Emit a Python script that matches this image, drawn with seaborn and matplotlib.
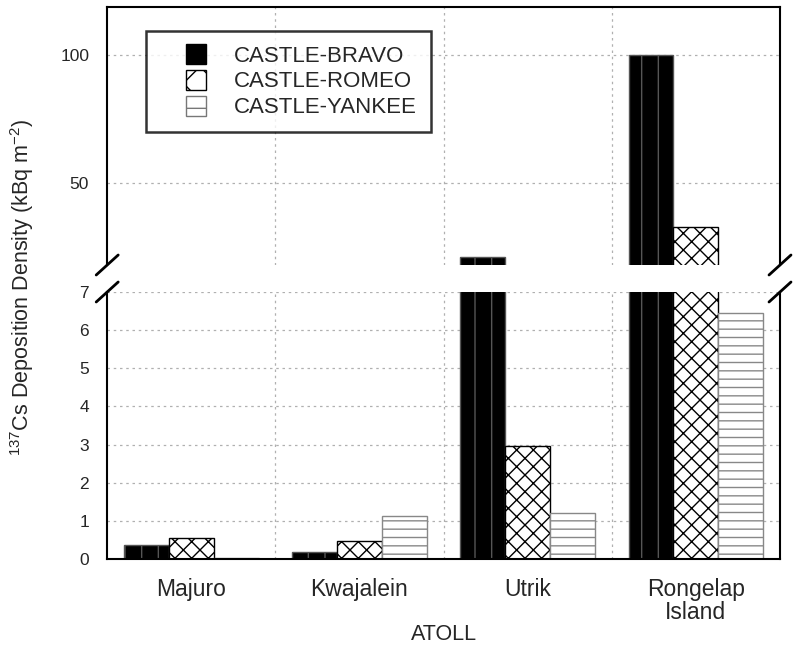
import pandas as pd
import matplotlib
matplotlib.use('Agg')
import matplotlib.pyplot as plt
from matplotlib.patches import Patch, Rectangle
from matplotlib.legend_handler import HandlerPatch
import seaborn as sns

# data
atolls = ['Majuro', 'Kwajalein', 'Utrik', 'Rongelap\nIsland']
tests = ['CASTLE-BRAVO', 'CASTLE-ROMEO', 'CASTLE-YANKEE']
bravo = [0.37, 0.18, 21.0, 100.0]
romeo = [0.55, 0.47, 2.97, 33.0]
yankee = [0.03, 1.12, 1.2, 6.45]

df = pd.DataFrame({
    'atoll': atolls * 3,
    'test': [t for t in tests for _ in atolls],
    'value': bravo + romeo + yankee,
})

sns.set_style('white')
plt.rcParams['font.family'] = ['Liberation Sans', 'DejaVu Sans']
plt.rcParams['mathtext.default'] = 'regular'
plt.rcParams['hatch.linewidth'] = 1.0

# bar styles: face, edge, hatch
styles = {
    'CASTLE-BRAVO': ('black', '#555555', '|'),
    'CASTLE-ROMEO': ('white', 'black', 'xx'),
    'CASTLE-YANKEE': ('white', '#888888', '--'),
}

fig = plt.figure(figsize=(8, 6.51), dpi=100)
ax_top = fig.add_axes([0.134, 0.593, 0.841, 0.396])
ax_bot = fig.add_axes([0.134, 0.1413, 0.841, 0.4102])

for ax in (ax_top, ax_bot):
    sns.barplot(data=df, x='atoll', y='value', hue='test', hue_order=tests,
                order=atolls, ax=ax, legend=False, saturation=1, width=0.8)
    for cont, t in zip(ax.containers, tests):
        fc, ec, h = styles[t]
        for bar in cont:
            bar.set_facecolor(fc)
            bar.set_edgecolor(ec)
            bar.set_hatch(h)
            bar.set_linewidth(1.0)
    ax.set_xlim(-0.5, 3.5)
    ax.set_xlabel('')
    ax.set_ylabel('')
    for xv in [0.5, 1.5, 2.5]:
        ax.axvline(xv, color='#b0b0b0', ls=(0, (2, 3)), lw=0.9, zorder=0)
    ax.tick_params(axis='both', length=0, labelsize=12.5, pad=13)
    for s in ax.spines.values():
        s.set_linewidth(1.5)
        s.set_color('black')

ax_top.set_ylim(18, 118.8)
ax_top.set_yticks([50, 100])
ax_top.set_xticks([])
ax_top.spines['bottom'].set_visible(False)
ax_bot.set_ylim(0, 7)
ax_bot.set_yticks(range(0, 8))
ax_bot.spines['top'].set_visible(False)
ax_bot.tick_params(axis='x', labelsize=16.5, pad=14)
for lbl in ax_bot.get_xticklabels():
    lbl.set_linespacing(0.95)

for ax in (ax_top, ax_bot):
    for yv in ax.get_yticks():
        ax.axhline(yv, color='#b0b0b0', ls=(0, (2, 3)), lw=0.9, zorder=0)

ax_bot.set_xlabel('ATOLL', fontsize=15.5, labelpad=0)
fig.text(0.027, 0.558, '$^{137}$Cs Deposition Density (kBq m$^{-2}$)',
         rotation=90, va='center', ha='center', fontsize=15.5)

# break marks on both sides
dx, dy = 11 / 800, 10 / 651
for xe in (0.134, 0.975):
    for ye in (1 - 265 / 651, 1 - 292 / 651):
        fig.add_artist(plt.Line2D([xe - dx, xe + dx], [ye - dy, ye + dy],
                                  color='black', lw=2, transform=fig.transFigure))


def square_at_right(legend, orig_handle, xdescent, ydescent, width, height, fontsize):
    s = 0.9 * fontsize
    return Rectangle((width - s - xdescent, -ydescent + (height - s) / 2), s, s)


handles = [Patch(facecolor=styles[t][0],
                 edgecolor='black' if t != 'CASTLE-YANKEE' else '#777777',
                 hatch={'CASTLE-BRAVO': '|', 'CASTLE-ROMEO': 'x', 'CASTLE-YANKEE': '-'}[t],
                 label=t) for t in tests]
leg = ax_top.legend(handles=handles, loc='upper left', bbox_to_anchor=(0.058, 0.908),
                    borderaxespad=0, fontsize=16, frameon=True, fancybox=False,
                    handlelength=2.07, handleheight=0.9, handletextpad=1.26,
                    labelspacing=0.18, borderpad=0.62,
                    handler_map={Patch: HandlerPatch(patch_func=square_at_right)})
leg.get_frame().set_edgecolor('black')
leg.get_frame().set_linewidth(1.8)

fig.savefig('out.png', dpi=100)
